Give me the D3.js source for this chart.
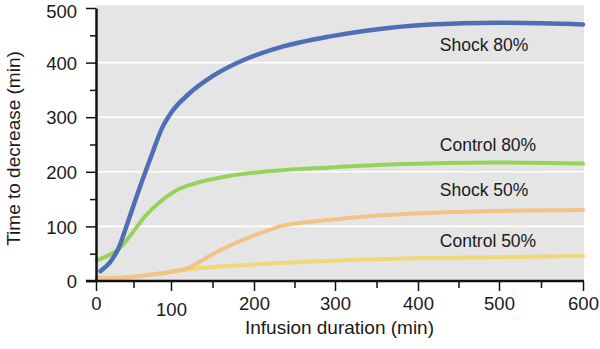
<!DOCTYPE html>
<html>
<head>
<meta charset="utf-8">
<script src="https://cdn.jsdelivr.net/npm/d3@7"></script>
<style>
  body { margin: 0; background: #fff; }
  svg { display: block; font-family: "Liberation Sans", Arial, Helvetica, sans-serif; }
</style>
</head>
<body>
<svg id="chart" width="600" height="349"></svg>
<script>
// values: [minutes, time to decrease]
const shock80 = [[6, 18], [18, 33], [30, 60], [43, 110], [58, 170], [74, 230], [88, 280], [101, 310], [121, 342], [151, 376], [191, 407], [232, 428], [294, 448], [335, 458], [415, 470], [497, 473], [600, 470]];
const control80 = [[1, 38], [15, 46], [30, 58], [45, 82], [65, 118], [88, 148], [105, 165], [127, 178], [165, 191], [212, 200], [294, 208], [374, 214], [497, 217], [600, 215]];
const shock50 = [[1, 5], [30, 5], [68, 11], [100, 17], [121, 24], [140, 40], [160, 57], [186, 75], [210, 89], [232, 100], [260, 107], [294, 112], [335, 118], [456, 127], [600, 130]];
const control50 = [[1, 6], [40, 7], [84, 13], [121, 21], [146, 25], [186, 29], [230, 33], [294, 37], [415, 42], [600, 46]];

const seriesNames = ["Shock 80%", "Control 80%", "Shock 50%", "Control 50%"];
const seriesColors = ["#4f6fb4", "#97d25d", "#f1c389", "#f0d878"];
const labelPos = [[427, 432], [427, 249], [427, 167], [427, 73]];

const xTicks = [0, 100, 200, 300, 400, 500, 600];
const yTicks = [0, 100, 200, 300, 400, 500];

const svg = d3.select("#chart");

// the source axis is slightly uneven, so a polylinear scale follows its ticks
const x = d3.scaleLinear()
  .domain(xTicks)
  .range([96, 171, 254, 335, 418, 499, 583]);
const y = d3.scaleLinear().domain([0, 500]).range([281, 8]);

// grey plot panel
svg.append("rect")
  .attr("x", x(0))
  .attr("y", y(505))
  .attr("width", x(600) - x(0) + 1)
  .attr("height", y(0) - y(505))
  .attr("fill", "#e5e5e5");

// white grid lines
svg.append("g")
  .selectAll("line")
  .data([100, 200, 300, 400])
  .join("line")
  .attr("x1", x(0))
  .attr("x2", x(600) + 1)
  .attr("y1", (d) => y(d))
  .attr("y2", (d) => y(d))
  .attr("stroke", "#fff")
  .attr("stroke-width", 1.6);

// curves
const line = d3.line()
  .x((d) => x(d[0]))
  .y((d) => y(d[1]))
  .curve(d3.curveMonotoneX);

const allSeries = [control50, shock50, control80, shock80];
const order = [3, 2, 1, 0];
svg.append("g")
  .selectAll("path")
  .data(allSeries)
  .join("path")
  .attr("d", line)
  .attr("fill", "none")
  .attr("stroke", (d, i) => seriesColors[order[i]])
  .attr("stroke-width", (d, i) => (order[i] === 0 ? 4.5 : 4))
  .attr("stroke-linecap", "round");

// minor ticks
svg.append("g")
  .attr("transform", `translate(${x(0)},0)`)
  .call(d3.axisLeft(y).tickValues([50, 150, 250, 350, 450]).tickSize(6).tickFormat(""))
  .call((g) => g.select(".domain").remove())
  .call((g) => g.selectAll("line").attr("stroke", "#111").attr("stroke-width", 1.5));

svg.append("g")
  .attr("transform", `translate(0,${y(0)})`)
  .call(d3.axisBottom(x).tickValues([50, 150, 250, 350, 450, 550]).tickSize(7).tickFormat(""))
  .call((g) => g.select(".domain").remove())
  .call((g) => g.selectAll("line").attr("stroke", "#111").attr("stroke-width", 1.5));

// major axes
const yAxis = svg.append("g")
  .attr("transform", `translate(${x(0)},0)`)
  .call(d3.axisLeft(y).tickValues(yTicks).tickSize(10).tickSizeOuter(0).tickPadding(9));

const xAxis = svg.append("g")
  .attr("transform", `translate(0,${y(0)})`)
  .call(d3.axisBottom(x).tickValues(xTicks).tickSize(10).tickSizeOuter(0).tickPadding(6));

[yAxis, xAxis].forEach((g) => {
  g.select(".domain").attr("stroke", "#111").attr("stroke-width", 2.5);
  g.selectAll(".tick line").attr("stroke", "#111").attr("stroke-width", 1.5);
  g.selectAll(".tick text")
    .attr("fill", "#1a1a1a")
    .attr("font-size", 18.5)
    .attr("font-family", "Liberation Sans, Arial, sans-serif");
});
xAxis.select(".domain").attr("d", `M${x(0) - 10},0H${x(600) + 1}`);
// keep the top label inside the picture, as in the source
yAxis.selectAll(".tick text").attr("dy", (d) => (d === 500 ? "0.5em" : "0.36em"));
// the "100" label sits a little lower in the source
xAxis.selectAll(".tick text").filter((d) => d === 100).attr("dy", "1.05em");

// axis titles
svg.append("text")
  .attr("x", (x(0) + x(600)) / 2)
  .attr("y", 334)
  .attr("text-anchor", "middle")
  .attr("font-size", 19)
  .attr("fill", "#1a1a1a")
  .text("Infusion duration (min)");

svg.append("text")
  .attr("transform", `translate(20,${y(250) + 4}) rotate(-90)`)
  .attr("text-anchor", "middle")
  .attr("font-size", 19)
  .attr("fill", "#1a1a1a")
  .text("Time to decrease (min)");

// series labels
svg.append("g")
  .selectAll("text")
  .data(seriesNames)
  .join("text")
  .attr("x", (d, i) => x(labelPos[i][0]))
  .attr("y", (d, i) => y(labelPos[i][1]))
  .attr("dy", "0.35em")
  .attr("font-size", 17.5)
  .attr("fill", "#1a1a1a")
  .text((d) => d);
</script>
</body>
</html>
